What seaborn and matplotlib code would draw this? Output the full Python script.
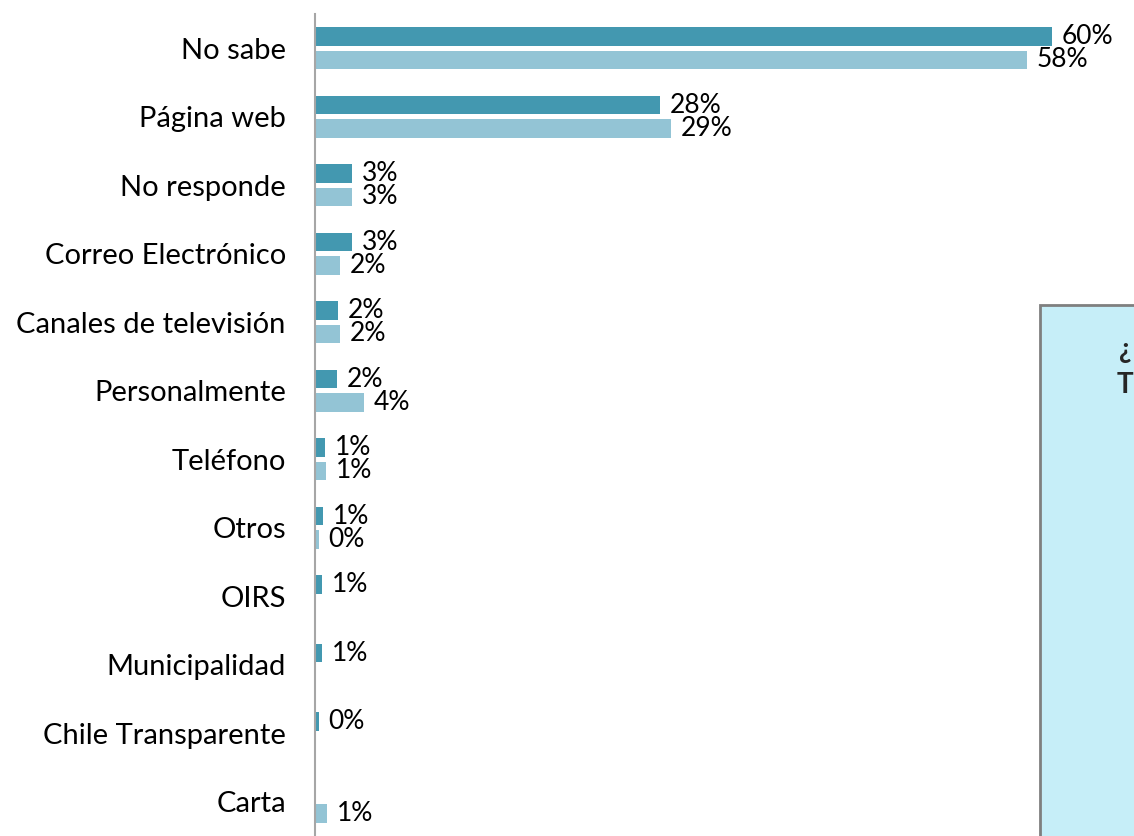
import numpy as np
import pandas as pd
import matplotlib
matplotlib.use("Agg")
import matplotlib.pyplot as plt
from matplotlib.patches import Rectangle
import seaborn as sns

# Medios por los que se informó (porcentaje), dos mediciones
categorias = [
    "No sabe", "Página web", "No responde", "Correo Electrónico",
    "Canales de televisión", "Personalmente", "Teléfono", "Otros",
    "OIRS", "Municipalidad", "Chile Transparente", "Carta",
]
serie_a = [60, 28.1, 3.0, 3.0, 1.9, 1.8, 0.8, 0.65, 0.6, 0.6, 0.3, np.nan]
serie_b = [58, 29, 3.0, 2.0, 2.0, 4.0, 0.9, 0.3, np.nan, np.nan, np.nan, 1.0]
series = ["Medición 1", "Medición 2"]
colores = ["#4398B0", "#93C4D5"]

df = pd.DataFrame({
    "categoria": categorias * 2,
    "valor": serie_a + serie_b,
    "serie": [series[0]] * len(categorias) + [series[1]] * len(categorias),
}).dropna()

sns.set_style("white")
plt.rcParams["font.family"] = ["Lato", "DejaVu Sans"]

W, H = 1134, 836
fig = plt.figure(figsize=(W / 100, H / 100), dpi=100)
ax = fig.add_axes([315 / W, 0, 819 / W, 822 / H])

sns.barplot(
    data=df, y="categoria", x="valor", hue="serie",
    order=categorias, hue_order=series, palette=colores, saturation=1,
    orient="h", width=0.68, gap=0.2, linewidth=0, legend=False, ax=ax,
)

for cont in ax.containers:
    ax.bar_label(cont, fmt=lambda v: f"{v:.0f}%", padding=7,
                 fontsize=19, color="#000000")

ax.set_xlim(0, 819 / 12.28)
ax.set_ylim(11.5, -0.5)
ax.set_xlabel("")
ax.set_ylabel("")
ax.set_xticks([])
ax.tick_params(axis="y", length=0, pad=21, labelsize=21, labelcolor="#000000")
for s in ["top", "right", "bottom"]:
    ax.spines[s].set_visible(False)
ax.spines["left"].set_color("#A6A6A6")
ax.spines["left"].set_linewidth(1.5)

# Recuadro de texto lateral
fig.patches.append(Rectangle((1040 / W, -0.1), 0.3, (H - 305) / H + 0.1,
                             transform=fig.transFigure, facecolor="#C6EEF8",
                             edgecolor="#7F7F7F", linewidth=2, zorder=5))
fig.text(1119 / W, 1 - 350 / H, "¿", fontsize=20,
         fontweight="bold", ha="left", va="center", zorder=6)
fig.text(1117 / W, 1 - 385 / H, "T", fontsize=20,
         fontweight="bold", ha="left", va="center", zorder=6)

fig.savefig("out.png", dpi=100)
